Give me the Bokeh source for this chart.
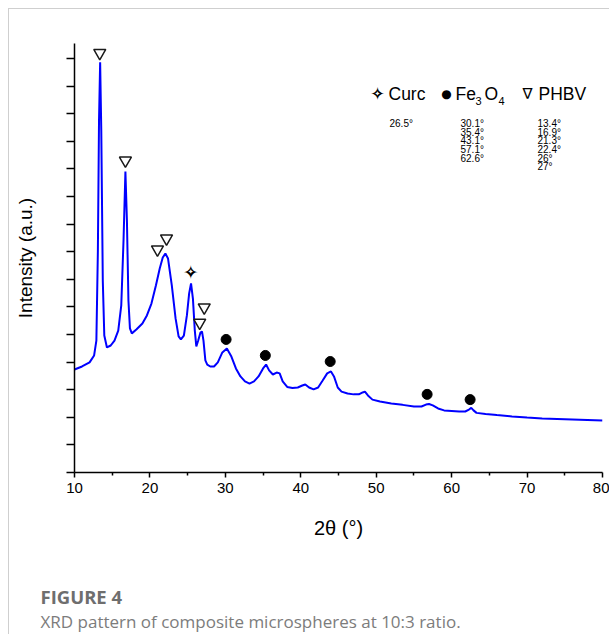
from bokeh.plotting import figure
from bokeh.layouts import column
from bokeh.models import FixedTicker, Label, Range1d, Div
from bokeh.core.properties import value
from bokeh.embed import file_html
from bokeh.resources import INLINE

# XRD pattern (2θ in degrees, intensity in arbitrary units)
two_theta = [10.0, 11.0, 12.0, 12.6, 12.9, 13.1, 13.25, 13.4, 13.55, 13.75, 13.95,
             14.3, 14.8, 15.3, 15.8, 16.2, 16.5, 16.75, 16.95, 17.15, 17.35, 17.6,
             18.2, 19.0, 19.6, 20.2, 20.8, 21.3, 21.7, 22.05, 22.4, 22.9, 23.4, 23.8,
             24.1, 24.5, 24.9, 25.2, 25.45, 25.7, 25.95, 26.15, 26.4, 26.7, 26.9, 27.1,
             27.35, 27.6, 28.0, 28.5, 29.0, 29.6, 30.2, 30.8, 31.4, 32.0, 32.6, 33.2,
             33.8, 34.4, 35.0, 35.4, 35.8, 36.3, 36.8, 37.2, 37.6, 38.2, 38.9, 39.6,
             40.2, 40.6, 41.1, 41.7, 42.3, 42.9, 43.5, 44.0, 44.4, 44.9, 45.4, 46.2,
             47.0, 47.7, 48.2, 48.5, 48.9, 49.5, 50.5, 52.0, 53.5, 55.0, 56.0, 56.6,
             57.0, 57.5, 58.2, 59.0, 60.0, 61.0, 61.8, 62.3, 62.6, 62.9, 63.3, 64.5,
             66.0, 68.0, 70.0, 72.0, 74.0, 76.0, 78.0, 80.0]
intensity = [3.73, 3.84, 3.99, 4.24, 4.78, 8.04, 12.75, 14.86, 12.39, 6.96, 4.96,
             4.53, 4.60, 4.78, 5.14, 6.05, 8.41, 10.9, 9.13, 6.23, 5.22, 5.04,
             5.18, 5.40, 5.69, 6.12, 6.78, 7.39, 7.79, 7.93, 7.75, 6.78, 5.58, 4.93,
             4.82, 4.96, 5.69, 6.49, 6.85, 6.30, 5.14, 4.57, 4.78, 5.07, 5.11, 4.78,
             4.06, 3.91, 3.84, 3.84, 3.99, 4.35, 4.49, 4.20, 3.77, 3.48, 3.30, 3.22,
             3.30, 3.48, 3.77, 3.91, 3.70, 3.55, 3.62, 3.59, 3.30, 3.10, 3.06, 3.08,
             3.15, 3.19, 3.08, 3.01, 3.08, 3.33, 3.59, 3.66, 3.48, 3.08, 2.93, 2.86,
             2.83, 2.83, 2.90, 2.93, 2.79, 2.64, 2.57, 2.50, 2.45, 2.39, 2.39, 2.46,
             2.48, 2.43, 2.32, 2.25, 2.23, 2.21, 2.21, 2.28, 2.34, 2.25, 2.16, 2.12,
             2.08, 2.03, 1.99, 1.96, 1.94, 1.92, 1.90, 1.88]

# Peak markers
phbv_x = [13.35, 16.75, 21.0, 22.2, 26.6, 27.2]
phbv_y = [15.2, 11.3, 8.08, 8.48, 5.43, 5.98]
fe_x = [30.1, 35.3, 43.9, 56.75, 62.45]
fe_y = [4.82, 4.24, 4.02, 2.83, 2.64]
curc_x = [25.4]
curc_y = [7.28]

# Peak position lists shown in the legend block
curc_list = ["26.5°"]
fe_list = ["30.1°", "35.4°", "43.1°", "57.1°", "62.6°"]
phbv_list = ["13.4°", "16.9°", "21.3°", "22.4°", "26°", "27°"]

x_ticks = [10, 20, 30, 40, 50, 60, 70, 80]
x_minor = [15, 25, 35, 45, 55, 65, 75]
y_ticks = list(range(0, 16))

caption_title = "FIGURE 4"
caption_text = "XRD pattern of composite microspheres at 10:3 ratio."

p = figure(width=600, height=551, x_range=Range1d(10, 80), y_range=Range1d(0, 15.54),
           output_backend="svg", toolbar_location=None,
           min_border_left=65, min_border_right=7, min_border_top=34, min_border_bottom=88)
p.outline_line_color = None
p.xgrid.visible = False
p.ygrid.visible = False
p.background_fill_color = "white"
p.border_fill_color = "white"

# axes
p.xaxis.ticker = FixedTicker(ticks=x_ticks, minor_ticks=x_minor)
p.xaxis.axis_label = "2θ (°)"
p.xaxis.axis_label_text_font = "Liberation Sans"
p.xaxis.axis_label_text_font_style = "normal"
p.xaxis.axis_label_text_font_size = "20px"
p.xaxis.axis_label_standoff = 21
p.xaxis.major_label_text_font = "Liberation Sans"
p.xaxis.major_label_text_font_size = "15px"
p.xaxis.major_label_standoff = 5
p.xaxis.major_tick_out = 5
p.xaxis.major_tick_in = 0
p.xaxis.minor_tick_out = 3
p.xaxis.minor_tick_in = 0

p.yaxis.ticker = FixedTicker(ticks=y_ticks, minor_ticks=[])
p.yaxis.major_label_overrides = {t: "" for t in y_ticks}
p.yaxis.axis_label = "Intensity (a.u.)"
p.yaxis.axis_label_text_font = "Liberation Sans"
p.yaxis.axis_label_text_font_style = "normal"
p.yaxis.axis_label_text_font_size = "19px"
p.yaxis.axis_label_standoff = 31
p.yaxis.major_label_standoff = 5
p.yaxis.major_tick_out = 8
p.yaxis.major_tick_in = 0
p.yaxis.minor_tick_line_color = None

for ax in (p.xaxis, p.yaxis):
    ax.axis_line_width = 1.5
    ax.axis_line_color = "black"
    ax.major_tick_line_width = 1.5
    ax.major_tick_line_color = "black"
    ax.minor_tick_line_width = 1.5
    ax.minor_tick_line_color = "black"
    ax.major_label_text_color = "black"
    ax.axis_label_text_color = "black"

# curve
p.line(two_theta, intensity, line_color="#0000ff", line_width=2)

# markers
p.scatter(phbv_x, phbv_y, marker="inverted_triangle", size=12, fill_color="white",
          line_color="#1a1a1a", line_width=1.5)
p.scatter(fe_x, fe_y, marker="circle", size=10, fill_color="black", line_color="black")
p.text(curc_x, curc_y, text=["✦"], text_font=value("DejaVu Sans"), text_font_size="19px",
       text_align="center", text_baseline="middle", text_color="black")
p.text(curc_x, curc_y, text=["✦"], text_font=value("DejaVu Sans"), text_font_size="7px",
       text_align="center", text_baseline="middle", text_color="white")


def lab(fig, x, y, t, size="17.5px", font="Liberation Sans", color="black", align="left",
        style="normal"):
    fig.add_layout(Label(x=x, y=y, x_units="canvas", y_units="canvas", text=t,
                         text_font=font, text_font_size=size, text_font_style=style,
                         text_color=color, text_baseline="middle", text_align=align))


# legend block
ly = 84
lab(p, 368, ly, "✦", size="18px", font="DejaVu Sans", align="center")
lab(p, 368, ly, "✦", size="7px", font="DejaVu Sans", color="white", align="center")
lab(p, 379, ly, "Curc")
lab(p, 437, ly, "●", size="12px", font="DejaVu Sans", align="center")
lab(p, 446, ly, "Fe")
lab(p, 466, ly + 7, "3", size="11px")
lab(p, 475, ly, "O")
lab(p, 489, ly + 7, "4", size="11px")
lab(p, 518, ly, "∇", size="15px", font="DejaVu Sans", align="center")
lab(p, 529, ly, "PHBV")

row_y = [114 + 8.65 * i for i in range(6)]
for i, t in enumerate(curc_list):
    lab(p, 380, row_y[i], t, size="10px")
for i, t in enumerate(fe_list):
    lab(p, 451, row_y[i], t, size="10px")
for i, t in enumerate(phbv_list):
    lab(p, 528, row_y[i], t, size="10px")

# caption panel
if "frame_align" in p.properties():
    cap = figure(width=600, height=74, x_range=Range1d(0, 1), y_range=Range1d(0, 1),
                 output_backend="svg", toolbar_location=None, x_axis_type=None,
                 y_axis_type=None, min_border=0)
    cap.outline_line_color = None
    cap.xgrid.visible = False
    cap.ygrid.visible = False
    p.frame_align = False
    cap.frame_align = False
    lab(cap, 31, 36, caption_title, size="18.5px", font="Open Sans", style="bold",
        color="#6e6e6e")
    lab(cap, 31, 61, caption_text, size="17px", font="Open Sans", color="#7c7c7c")
else:
    cap = Div(width=600, height=74,
              text=(f"<div style='padding:25px 0 0 31px;font-family:Open Sans;color:#7c7c7c'>"
                    f"<div style='font-weight:bold;font-size:18.5px;color:#6e6e6e;line-height:22px'>{caption_title}</div>"
                    f"<div style='font-size:17px;line-height:28px'>{caption_text}</div></div>"))

layout = column(p, cap, spacing=0)
layout.styles = {"margin-left": "8px", "margin-top": "8px",
                 "border-left": "1px solid #cfcfcf", "border-top": "1px solid #cfcfcf"}

open("out.html", "w").write(file_html(layout, INLINE))
